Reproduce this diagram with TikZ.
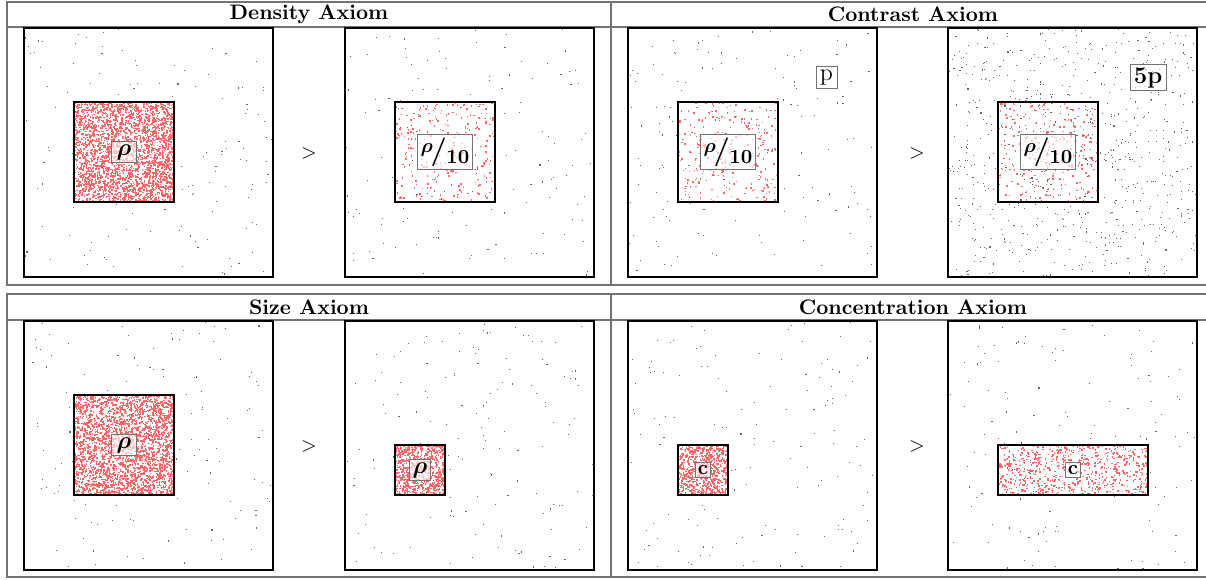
\documentclass[tikz,border=0pt]{standalone}
\usepackage{amsmath,bm}
\newcommand\scatterdots[7]{% x0 y0 w h count colour size
  \foreach \i in {1,...,#5}{%
    \pgfmathsetmacro\dx{#1+rnd*(#3-#7)}%
    \pgfmathsetmacro\dy{#2+rnd*(#4-#7)}%
    \fill[#6] (\dx,\dy) rectangle ++(#7,#7);}}
\begin{document}
\begin{tikzpicture}[x=0.5pt,y=-0.5pt,
  tbl/.style={draw=black!55,line width=1pt},
  panel/.style={draw=black,line width=0.8pt},
  lbl/.style={draw=black!55,line width=0.5pt,fill=white,fill opacity=0.6,text opacity=1,inner sep=1.5pt},
  hdr/.style={font=\bfseries\fontsize{10.5}{12}\selectfont},
  gt/.style={font=\normalsize},
  bdot/.style={black!60},
  rdot/.style={red!60}]
\useasboundingbox (0,0) rectangle (1206,579);
\clip (0,0) rectangle (1206,579);
\pgfmathsetseed{4711}
% ---------- tables ----------
\draw[tbl] (7,2) rectangle (1215,285);
\draw[tbl] (7,27) -- (1215,27);
\draw[tbl] (611,2) -- (611,285);
\draw[tbl] (7,294) rectangle (1215,577);
\draw[tbl] (7,320) -- (1215,320);
\draw[tbl] (611,294) -- (611,577);
\node[hdr] (hD) at (309,14.5) {Density Axiom};
\node[hdr] (hC) at (913,14.5) {Contrast Axiom};
\node[hdr] (hS) at (309,307) {Size Axiom};
\node[hdr] (hK) at (913,307) {Concentration Axiom};
% ---------- dots ----------
% Density
\scatterdots{24}{28}{249}{249}{140}{bdot}{1.1}
\scatterdots{74}{102}{100}{100}{2600}{rdot}{1.5}
\scatterdots{345}{28}{249}{249}{140}{bdot}{1.1}
\scatterdots{395}{102}{100}{100}{260}{rdot}{1.5}
% Contrast
\scatterdots{628}{28}{249}{249}{140}{bdot}{1.1}
\scatterdots{678}{102}{100}{100}{260}{rdot}{1.5}
\scatterdots{948}{28}{249}{249}{700}{bdot}{1.1}
\scatterdots{998}{102}{100}{100}{260}{rdot}{1.5}
% Size
\scatterdots{24}{321}{249}{249}{140}{bdot}{1.1}
\scatterdots{74}{395}{100}{100}{2600}{rdot}{1.5}
\scatterdots{345}{321}{249}{249}{140}{bdot}{1.1}
\scatterdots{395}{445}{50}{50}{650}{rdot}{1.5}
% Concentration
\scatterdots{628}{321}{249}{249}{140}{bdot}{1.1}
\scatterdots{678}{445}{50}{50}{650}{rdot}{1.5}
\scatterdots{948}{321}{249}{249}{140}{bdot}{1.1}
\scatterdots{998}{445}{150}{50}{650}{rdot}{1.5}
% ---------- panels ----------
\foreach \px in {24,345,628,948}{
  \draw[panel] (\px,28) rectangle ++(249,249);
  \draw[panel] (\px,321) rectangle ++(249,249);}
% inner regions
\draw[panel] (74,102) rectangle ++(100,100);
\draw[panel] (395,102) rectangle ++(100,100);
\draw[panel] (678,102) rectangle ++(100,100);
\draw[panel] (998,102) rectangle ++(100,100);
\draw[panel] (74,395) rectangle ++(100,100);
\draw[panel] (395,445) rectangle ++(50,50);
\draw[panel] (678,445) rectangle ++(50,50);
\draw[panel] (998,445) rectangle ++(150,50);
% ---------- labels ----------
\newcommand\rfrac{\bfseries\raisebox{0.75ex}{$\bm{\rho}$}\kern-0.12em{\Large/}\kern-0.02em\raisebox{-0.45ex}{10}}
\node[lbl,minimum width=12.5pt,minimum height=10pt] (l1) at (124,152) {\large$\bm{\rho}$};
\node[lbl,minimum width=25pt,minimum height=17pt] (l2) at (445,152) {\rfrac};
\node[lbl,minimum width=25pt,minimum height=17pt] (l3) at (728,152) {\rfrac};
\node[lbl,minimum width=25pt,minimum height=17pt] (l4) at (1048,152) {\rfrac};
\node[lbl,minimum width=10.5pt,minimum height=10.5pt] (lp) at (826.5,77.5) {\large p};
\node[lbl,minimum width=18pt,minimum height=12.5pt] (l5p) at (1148,77.5) {\large\bfseries 5p};
\node[lbl,minimum width=12.5pt,minimum height=10pt] (l5) at (124,445) {\large$\bm{\rho}$};
\node[lbl,minimum width=10pt,minimum height=10pt] (l6) at (420,470) {\large$\bm{\rho}$};
\node[lbl,minimum width=7.5pt,minimum height=7.5pt,inner sep=0.8pt] (l7) at (703,470) {\bfseries c};
\node[lbl,minimum width=7.5pt,minimum height=7.5pt,inner sep=0.8pt] (l8) at (1073,470) {\bfseries c};
% ---------- comparison signs ----------
\node[gt] (g1) at (309,153) {$>$};
\node[gt] (g2) at (917,153) {$>$};
\node[gt] (g3) at (309,446) {$>$};
\node[gt] (g4) at (917,446) {$>$};
\end{tikzpicture}
\end{document}
